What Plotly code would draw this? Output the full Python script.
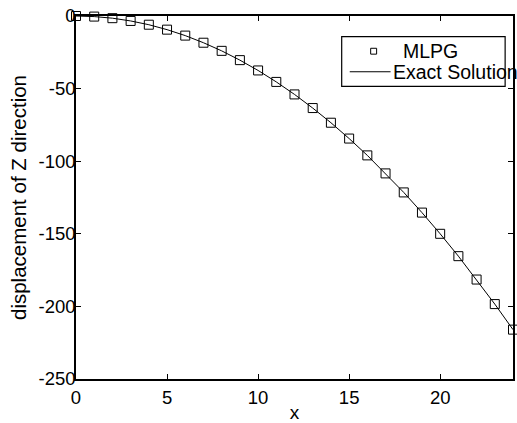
import plotly.graph_objects as go

x_vals = list(range(0, 25))
mlpg = [0, -0.4, -1.5, -3.4, -6.0, -9.4, -13.5, -18.4, -24.0, -30.4, -37.5, -45.4,
        -54.0, -63.4, -73.5, -84.4, -96.0, -108.4, -121.5, -135.4, -150.0, -165.4,
        -181.5, -198.4, -216.0]
exact = [0, -0.4, -1.5, -3.4, -6.0, -9.4, -13.5, -18.4, -24.0, -30.4, -37.5, -45.4,
         -54.0, -63.4, -73.5, -84.4, -96.0, -108.4, -121.5, -135.4, -150.0, -165.4,
         -181.5, -198.4, -216.0]
x_ticks = [0, 5, 10, 15, 20]
y_ticks = [0, -50, -100, -150, -200, -250]
y_tick_text = ["0", "-50", "-100", "-150", "-200", "-250"]

FONT = "Liberation Sans, Arial, sans-serif"

fig = go.Figure()
fig.add_trace(go.Scatter(x=x_vals, y=exact, mode="lines", name="Exact Solution",
                         line=dict(color="black", width=1), showlegend=False))
fig.add_trace(go.Scatter(x=x_vals, y=mlpg, mode="markers", name="MLPG",
                         marker=dict(symbol="square-open", size=9,
                                     color="black", line=dict(width=1, color="black")),
                         showlegend=False, cliponaxis=False))

axis_common = dict(showline=True, linecolor="black", linewidth=1.5, mirror="allticks",
                   ticks="inside", ticklen=5, tickwidth=1, tickcolor="black",
                   showgrid=False, zeroline=False,
                   tickfont=dict(family=FONT, size=18.5, color="black"))

fig.update_layout(
    width=517, height=423,
    margin=dict(l=76, r=2, t=16, b=36),
    paper_bgcolor="white", plot_bgcolor="white",
    font=dict(family=FONT, color="black"),
    xaxis=dict(range=[0, 24], tickvals=x_ticks, ticklabelstandoff=1,
               title=dict(text="x", font=dict(family=FONT, size=19), standoff=0),
               **axis_common),
    yaxis=dict(range=[-250, 0], tickvals=y_ticks, ticktext=y_tick_text,
               ticklabelstandoff=-5,
               title=dict(text="displacement of Z direction", font=dict(family=FONT, size=20.5),
                          standoff=6),
               **axis_common),
    showlegend=False,
)

# custom legend box (MATLAB-style)
fig.add_shape(type="rect", xref="paper", yref="paper", x0=0.608, x1=0.982, y0=0.806, y1=0.943,
              line=dict(color="black", width=1.2), fillcolor="white", layer="above")
fig.add_shape(type="rect", xref="paper", yref="paper", x0=0.6743, x1=0.6879, y0=0.8949, y1=0.9111,
              line=dict(color="black", width=1), layer="above")
fig.add_shape(type="line", xref="paper", yref="paper", x0=0.6264, x1=0.7198, y0=0.8464, y1=0.8464,
              line=dict(color="black", width=1), layer="above")
fig.add_annotation(xref="paper", yref="paper", x=0.7426, y=0.903, text="MLPG",
                   xanchor="left", yanchor="middle", showarrow=False,
                   font=dict(family=FONT, size=19.5, color="black"))
fig.add_annotation(xref="paper", yref="paper", x=0.7198, y=0.8464, text="Exact Solution",
                   xanchor="left", yanchor="middle", showarrow=False,
                   font=dict(family=FONT, size=19.5, color="black"))

fig.write_html("out.html")
